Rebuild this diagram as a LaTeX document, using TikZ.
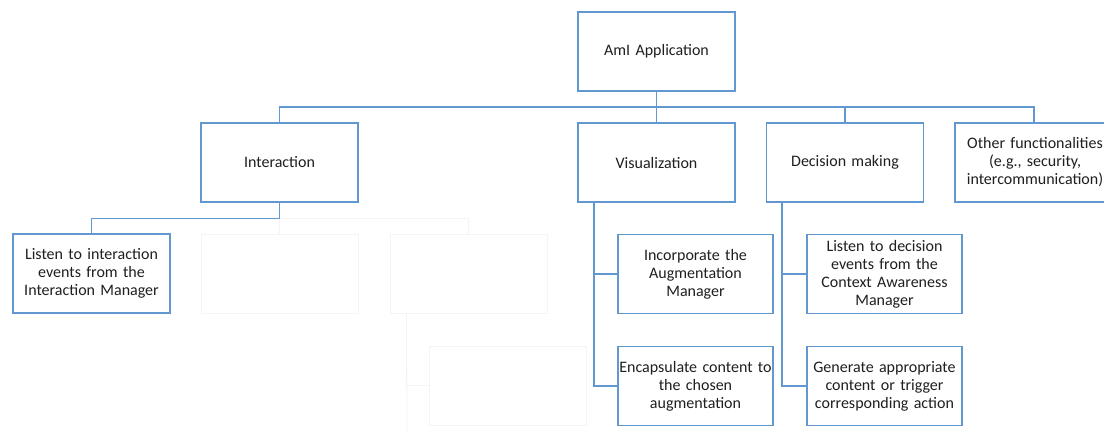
\documentclass[tikz,border=0pt]{standalone}
\usepackage{fontspec}
\setmainfont{Carlito}
\definecolor{linkblue}{RGB}{98,152,210}
\definecolor{ghostgray}{RGB}{244,244,244}
\begin{document}
\begin{tikzpicture}[x=1pt,y=-1pt,
  box/.style={draw=linkblue, line width=1.2pt, fill=white, minimum width=157pt,
    minimum height=79pt, inner sep=1pt, align=center, text width=155pt,
    font=\fontsize{16}{18}\selectfont, text=black!88},
  ghost/.style={draw=ghostgray, line width=1pt, minimum width=157pt, minimum height=79pt},
  link/.style={draw=linkblue, line width=1.2pt},
  ghostlink/.style={draw=ghostgray, line width=1pt}]
\useasboundingbox (0,0) rectangle (1104,432);
\clip (0,0) rectangle (1104,432);

% faint placeholder boxes and their connectors
\node[ghost] (g1) at (279.5,273.5) {};
\node[ghost] (g2) at (468.5,273.5) {};
\node[ghost] (g3) at (507.5,385.5) {};
\coordinate (gv) at ([xshift=17pt]g2.south west);
\draw[ghostlink] (279.5,218) -| (g2.north);
\draw[ghostlink] (279.5,218) -- (g1.north);
\draw[ghostlink] (gv) -- (407,432);
\draw[ghostlink] (gv) |- (g3.west);

% top level
\node[box] (app) at (656.5,51.5) {AmI Application};
\node[box] (inter) at (279.5,162.5) {Interaction};
\node[box] (vis) at (656.5,162.5) {Visualization};
\node[box] (dec) at (845,162.5) {Decision making};
\node[box, minimum width=160pt] (other) at (1035,162.5) {Other functionalities\\(e.g., security,\\intercommunication)};

% second level
\node[box] (li) at (91.5,273.5) {Listen to interaction\\events from the\\Interaction Manager};
\node[box, minimum width=155pt, text width=153pt] (va) at (695.5,274) {Incorporate the\\Augmentation\\Manager};
\node[box, minimum width=155pt, text width=153pt] (vb) at (695.5,386) {Encapsulate content to\\the chosen\\augmentation};
\node[box, minimum width=155pt, text width=153pt] (da) at (884.5,274) {Listen to decision\\events from the\\Context Awareness\\Manager};
\node[box, minimum width=155pt, text width=153pt] (db) at (884.5,386) {Generate appropriate\\content or trigger\\corresponding action};

% connectors
\coordinate (bus) at (656.5,107);
\coordinate (otop) at (1034,123);
\draw[link] (app.south) -- (vis.north);
\draw[link] (inter.north) |- (bus) -| (otop);
\draw[link] (dec.north) |- (bus);
\draw[link] (inter.south) -- ++(0,15.5) -| (li.north);
\coordinate (vs) at ([xshift=16.5pt]vis.south west);
\coordinate (ds) at ([xshift=16pt]dec.south west);
\draw[link] (vs) |- (va.west);
\draw[link] (vs) |- (vb.west);
\draw[link] (ds) |- (da.west);
\draw[link] (ds) |- (db.west);
\end{tikzpicture}
\end{document}
